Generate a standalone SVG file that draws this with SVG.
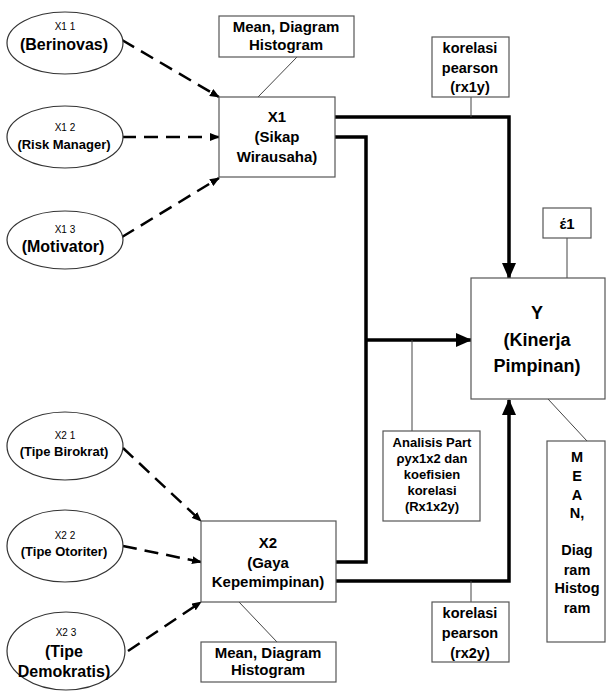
<svg xmlns="http://www.w3.org/2000/svg" width="606" height="696" viewBox="0 0 606 696">
<style>
text{font-family:"Liberation Sans",Arial,sans-serif;font-weight:bold;fill:#000;text-anchor:middle}
.s{font-weight:normal;font-size:10px}
.box{fill:#fff;stroke:#555;stroke-width:1.2}
.ell{fill:#fff;stroke:#333;stroke-width:1.2}
.thin{stroke:#444;stroke-width:1;fill:none}
.dash{stroke:#000;stroke-width:2.5;fill:none;stroke-dasharray:14 8}
.thick{stroke:#000;stroke-width:3.5;fill:none}
</style>
<defs>
<marker id="ad" markerWidth="10" markerHeight="8" refX="9" refY="4" orient="auto" markerUnits="userSpaceOnUse"><path d="M0,0 L10,4 L0,8 z" fill="#000"/></marker>
<marker id="at" markerWidth="16" markerHeight="14" refX="15" refY="7" orient="auto" markerUnits="userSpaceOnUse"><path d="M0,0 L16,7 L0,14 z" fill="#000"/></marker>
</defs>
<g id="connectors">
<line class="dash" x1="122" y1="40" x2="219" y2="97" marker-end="url(#ad)"/>
<line class="dash" x1="122" y1="137" x2="219" y2="137" marker-end="url(#ad)"/>
<line class="dash" x1="122" y1="237" x2="219" y2="178" marker-end="url(#ad)"/>
<line class="dash" x1="123" y1="448" x2="201" y2="521" marker-end="url(#ad)"/>
<line class="dash" x1="123" y1="546" x2="201" y2="562" marker-end="url(#ad)"/>
<line class="dash" x1="128" y1="651" x2="201" y2="602" marker-end="url(#ad)"/>
<polyline class="thick" points="335,117 509,117 509,278" marker-end="url(#at)"/>
<polyline class="thick" points="335,137 366,137 366,562 336,562"/>
<line class="thick" x1="366" y1="340" x2="471" y2="340" marker-end="url(#at)"/>
<polyline class="thick" points="336,581 509,581 509,400" marker-end="url(#at)"/>
<line class="thin" x1="297" y1="57" x2="258" y2="97"/>
<line class="thin" x1="471" y1="97" x2="471" y2="117"/>
<line class="thin" x1="567" y1="238" x2="567" y2="278"/>
<line class="thin" x1="412" y1="340" x2="412" y2="431"/>
<line class="thin" x1="548" y1="399" x2="587" y2="441"/>
<line class="thin" x1="471" y1="581" x2="471" y2="602"/>
<line class="thin" x1="239" y1="602" x2="277" y2="642"/>
</g>
<g id="e11"><ellipse class="ell" cx="65" cy="43" rx="58" ry="31"/><text class="s" x="65" y="30">X1 1</text><text x="64" y="50" font-size="16">(Berinovas)</text></g>
<g id="e12"><ellipse class="ell" cx="65" cy="137" rx="58" ry="31"/><text class="s" x="65" y="131">X1 2</text><text x="64" y="149" font-size="13">(Risk Manager)</text></g>
<g id="e13"><ellipse class="ell" cx="65" cy="240" rx="58" ry="29"/><text class="s" x="65" y="233">X1 3</text><text x="63" y="252" font-size="16">(Motivator)</text></g>
<g id="e21"><ellipse class="ell" cx="65" cy="446" rx="58" ry="34"/><text class="s" x="65" y="439">X2 1</text><text x="64" y="456" font-size="13">(Tipe Birokrat)</text></g>
<g id="e22"><ellipse class="ell" cx="65" cy="546" rx="58" ry="36"/><text class="s" x="65" y="539">X2 2</text><text x="64" y="556" font-size="13">(Tipe Otoriter)</text></g>
<g id="e23"><ellipse class="ell" cx="66" cy="651" rx="59" ry="39"/><text class="s" x="66" y="636">X2 3</text><text x="64" y="657" font-size="16">(Tipe</text><text x="64" y="677" font-size="16">Demokratis)</text></g>
<g id="meanTop"><rect class="box" x="219" y="16" width="135" height="41"/><text x="286" y="32" font-size="15">Mean, Diagram</text><text x="286" y="50" font-size="15">Histogram</text></g>
<g id="x1"><rect class="box" x="219" y="97" width="116" height="80"/><text x="277" y="122" font-size="15">X1</text><text x="277" y="142" font-size="15">(Sikap</text><text x="277" y="162" font-size="15">Wirausaha)</text></g>
<g id="kor1"><rect class="box" x="432" y="37" width="77" height="60"/><text x="470" y="53" font-size="14.5">korelasi</text><text x="470" y="73" font-size="14.5">pearson</text><text x="470" y="92" font-size="14.5">(rx1y)</text></g>
<g id="eps"><rect class="box" x="543" y="208" width="48" height="30"/><text x="567" y="229" font-size="15">έ1</text></g>
<g id="y"><rect class="box" x="471" y="278" width="134" height="121"/><text x="537" y="319" font-size="18">Y</text><text x="537" y="346" font-size="18">(Kinerja</text><text x="537" y="372" font-size="18">Pimpinan)</text></g>
<g id="analisis"><rect class="box" x="383" y="431" width="97" height="90"/><text x="432" y="447" font-size="13">Analisis Part</text><text x="432" y="463" font-size="13">ρyx1x2 dan</text><text x="432" y="479" font-size="13">koefisien</text><text x="432" y="495" font-size="13">korelasi</text><text x="432" y="511" font-size="13">(Rx1x2y)</text></g>
<g id="meanRight"><rect class="box" x="547" y="441" width="58" height="201"/>
<text x="577" y="462" font-size="14.5">M</text><text x="577" y="481" font-size="14.5">E</text><text x="577" y="500" font-size="14.5">A</text><text x="577" y="518" font-size="14.5">N,</text>
<text x="577" y="555" font-size="14.5">Diag</text><text x="577" y="575" font-size="14.5">ram</text><text x="577" y="593" font-size="14.5">Histog</text><text x="577" y="613" font-size="14.5">ram</text></g>
<g id="x2"><rect class="box" x="201" y="521" width="135" height="81"/><text x="268" y="548" font-size="15">X2</text><text x="268" y="568" font-size="15">(Gaya</text><text x="268" y="587" font-size="15">Kepemimpinan)</text></g>
<g id="kor2"><rect class="box" x="432" y="602" width="77" height="60"/><text x="470" y="618" font-size="14.5">korelasi</text><text x="470" y="638" font-size="14.5">pearson</text><text x="470" y="658" font-size="14.5">(rx2y)</text></g>
<g id="meanBottom"><rect class="box" x="201" y="642" width="135" height="40"/><text x="268" y="658" font-size="15">Mean, Diagram</text><text x="268" y="675" font-size="15">Histogram</text></g>
</svg>
